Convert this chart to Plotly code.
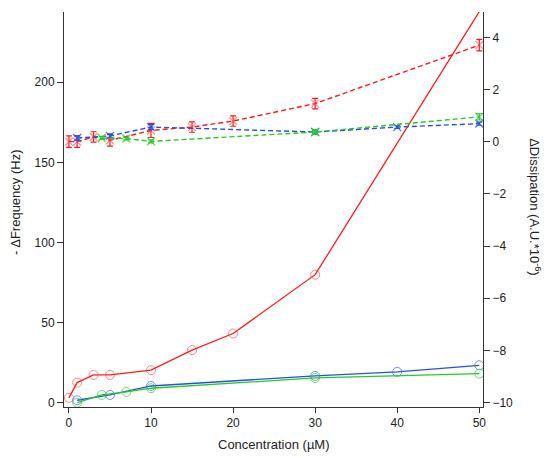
import plotly.graph_objects as go

# Frequency shift (left axis, solid lines with open circles)
freq_x_red = [0, 1, 3, 5, 10, 15, 20, 30, 50]
freq_red = [3.2, 12.7, 17.5, 17.5, 20.5, 33, 43.3, 80, 244]
freq_x_blue = [1, 5, 10, 30, 40, 50]
freq_blue = [1.7, 5, 10.6, 16.9, 19.4, 23.5]
freq_x_green = [1, 4, 7, 10, 30, 50]
freq_green = [0.2, 5, 6.9, 9.2, 15.6, 18.3]

# Dissipation shift (right axis, dashed lines with x markers and error bars)
diss_x_red = [0, 1, 3, 5, 10, 15, 20, 30, 50]
diss_red = [0.0, 0.0, 0.18, 0.05, 0.43, 0.56, 0.79, 1.46, 3.7]
diss_red_err = [0.22, 0.22, 0.2, 0.22, 0.27, 0.2, 0.2, 0.2, 0.22]
diss_x_blue = [1, 5, 10, 30, 40, 50]
diss_blue = [0.14, 0.22, 0.56, 0.37, 0.56, 0.69]
diss_blue_err = [0.08, 0.08, 0.1, 0.08, 0.05, 0.06]
diss_x_green = [4, 7, 10, 30, 50]
diss_green = [0.14, 0.12, 0.01, 0.37, 0.95]
diss_green_err = [0.05, 0.05, 0.06, 0.08, 0.12]

RED = "#ff1a1a"
BLUE = "#2850e0"
GREEN = "#22cc22"
AXIS = "#333333"

fig = go.Figure()

for xs, ys, col, mcol in [
    (freq_x_red, freq_red, RED, "rgba(255,60,60,0.6)"),
    (freq_x_blue, freq_blue, BLUE, "rgba(60,100,240,0.7)"),
    (freq_x_green, freq_green, GREEN, "rgba(40,210,40,0.7)"),
]:
    fig.add_trace(go.Scatter(
        x=xs, y=ys, mode="lines+markers",
        line=dict(color=col, width=1.3),
        marker=dict(symbol="circle-open", size=9, color=mcol, line=dict(width=1)),
        cliponaxis=False, showlegend=False,
    ))

for xs, ys, err, col, mcol in [
    (diss_x_red, diss_red, diss_red_err, RED, "rgba(255,60,60,0.6)"),
    (diss_x_blue, diss_blue, diss_blue_err, BLUE, "rgba(40,80,230,0.8)"),
    (diss_x_green, diss_green, diss_green_err, GREEN, "rgba(40,210,40,0.8)"),
]:
    fig.add_trace(go.Scatter(
        x=xs, y=ys, yaxis="y2", mode="lines+markers",
        line=dict(color=col, width=1.4, dash="5px,3px"),
        marker=dict(symbol="x-thin-open", size=8, color=mcol, line=dict(width=1.2, color=mcol)),
        error_y=dict(type="data", array=err, color=col, thickness=1.2, width=3),
        cliponaxis=False, showlegend=False,
    ))

tick_font = dict(family="Liberation Sans, Arial, sans-serif", size=12, color="#222222")
title_font = dict(family="Liberation Sans, Arial, sans-serif", size=13, color="#222222")

# the page adds an 8px body margin, so shift the figure back by that much
fig.update_layout(
    width=542,
    height=450,
    margin=dict(l=56, r=67, t=4, b=51, autoexpand=False),
    plot_bgcolor="white",
    paper_bgcolor="white",
    font=tick_font,
    xaxis=dict(
        range=[-0.6, 50.45],
        tickvals=[0, 10, 20, 30, 40, 50],
        ticks="outside", ticklen=5, tickcolor=AXIS,
        showline=True, linecolor=AXIS, linewidth=1,
        showgrid=False, zeroline=False, automargin=False,
    ),
    yaxis=dict(
        range=[-2.5, 243.75],
        tickvals=[0, 50, 100, 150, 200],
        ticks="outside", ticklen=6, tickcolor=AXIS,
        showline=True, linecolor=AXIS, linewidth=1,
        showgrid=False, zeroline=False, automargin=False,
    ),
    yaxis2=dict(
        range=[-10.17, 4.97],
        tickvals=[-10, -8, -6, -4, -2, 0, 2, 4],
        ticks="outside", ticklen=6, tickcolor=AXIS,
        showline=True, linecolor=AXIS, linewidth=1,
        showgrid=False, zeroline=False, automargin=False,
        overlaying="y", side="right",
    ),
    annotations=[
        dict(
            text="Concentration (µM)",
            xref="paper", yref="paper", x=0.5, y=-0.096,
            xanchor="center", yanchor="middle",
            showarrow=False, font=title_font,
        ),
        dict(
            text="- ΔFrequency (Hz)",
            xref="paper", yref="paper", x=-0.116, y=0.52,
            xanchor="center", yanchor="middle",
            textangle=-90, showarrow=False, font=title_font,
        ),
        dict(
            text="ΔDissipation (A.U.*10<sup>-6</sup>)",
            xref="paper", yref="paper", x=1.124, y=0.506,
            xanchor="center", yanchor="middle",
            textangle=90, showarrow=False, font=title_font,
        ),
    ],
)

fig.write_html("out.html")
